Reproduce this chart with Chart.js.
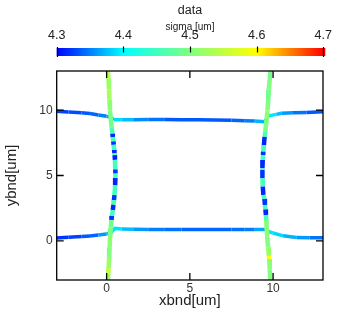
<!DOCTYPE html>
<html>
<head>
<meta charset="utf-8">
<script src="https://cdn.jsdelivr.net/npm/chart.js@4"></script>
<style>
   body { margin: 0; background: #fff; }
   #wrap { position: relative; width: 345px; height: 316px; }
   canvas { position: absolute; left: 0; top: 0; }
</style>
</head>
<body>
<div id="wrap">
   <canvas id="barChart" width="345" height="60"></canvas>
   <canvas id="mainChart" width="345" height="316"></canvas>
</div>
<script>
// colour scale
const cMin = 4.3;
const cMax = 4.7;
const barTicks = [4.3, 4.4, 4.5, 4.6, 4.7];

// axis ticks
const xTicks = [0, 5, 10];
const yTicks = [0, 5, 10];

// left boundary (top to bottom)
const leftY = [13.2, 12.4, 11.6, 10.8, 10.0, 9.3, 8.7, 8.2, 7.95, 7.6, 7.35, 6.95, 6.7, 6.55, 6.2, 5.45, 5.15, 4.8, 4.25, 3.5, 3.1, 2.75, 2.35, 1.9, 1.6, 1.0, 0.3, -0.5, -1.3, -2.1, -2.5, -3.2];
const leftX = [0.07, 0.11, 0.14, 0.17, 0.2, 0.25, 0.3, 0.35, 0.37, 0.4, 0.42, 0.45, 0.47, 0.48, 0.5, 0.52, 0.53, 0.53, 0.51, 0.47, 0.44, 0.41, 0.37, 0.32, 0.29, 0.25, 0.21, 0.18, 0.15, 0.12, 0.1, 0.06];
const leftS = [4.54, 4.52, 4.53, 4.51, 4.5, 4.49, 4.46, 4.315, 4.455, 4.32, 4.45, 4.315, 4.46, 4.31, 4.45, 4.32, 4.455, 4.315, 4.45, 4.32, 4.46, 4.315, 4.45, 4.32, 4.49, 4.5, 4.51, 4.5, 4.52, 4.55, 4.52, 4.52];

// right boundary (top to bottom)
const rightY = [13.2, 12.4, 11.6, 10.8, 10.0, 9.3, 8.35, 7.96, 7.33, 6.82, 6.56, 6.18, 5.55, 5.42, 4.79, 4.15, 3.51, 3.2, 2.75, 2.4, 1.98, 1.6, 1.0, 0.3, -0.5, -1.15, -1.4, -2.2, -3.2];
const rightX = [9.85, 9.8, 9.75, 9.71, 9.67, 9.61, 9.53, 9.49, 9.45, 9.42, 9.4, 9.38, 9.36, 9.36, 9.36, 9.38, 9.42, 9.48, 9.51, 9.54, 9.57, 9.59, 9.61, 9.65, 9.7, 9.75, 9.77, 9.8, 9.85];
const rightS = [4.49, 4.5, 4.49, 4.5, 4.51, 4.5, 4.455, 4.315, 4.455, 4.32, 4.45, 4.315, 4.45, 4.32, 4.455, 4.315, 4.45, 4.32, 4.455, 4.315, 4.455, 4.5, 4.51, 4.5, 4.52, 4.6, 4.51, 4.5, 4.5];

// top boundary (left to right)
const topX = [-3.1, -2.3, -1.5, -1.0, -0.5, 0.0, 0.25, 0.45, 0.9, 1.6, 2.5, 3.5, 4.5, 5.5, 6.5, 7.5, 8.3, 8.9, 9.5, 9.7, 10.2, 10.5, 11.2, 12.0, 13.1];
const topY = [9.93, 9.86, 9.8, 9.74, 9.63, 9.53, 9.45, 9.26, 9.26, 9.27, 9.28, 9.28, 9.27, 9.26, 9.25, 9.23, 9.2, 9.17, 9.12, 9.55, 9.68, 9.77, 9.8, 9.83, 9.88];
const topS = [4.325, 4.33, 4.335, 4.34, 4.35, 4.365, 4.38, 4.385, 4.375, 4.355, 4.345, 4.335, 4.335, 4.335, 4.335, 4.34, 4.35, 4.37, 4.385, 4.39, 4.375, 4.36, 4.345, 4.335, 4.33];

// bottom boundary (left to right)
const botX = [-3.1, -2.3, -1.5, -1.0, -0.5, 0.0, 0.25, 0.5, 0.9, 1.6, 2.5, 3.5, 4.5, 5.5, 6.5, 7.5, 8.3, 8.9, 9.6, 9.7, 10.0, 10.6, 11.4, 12.2, 13.1];
const botY = [0.22, 0.28, 0.33, 0.37, 0.45, 0.53, 0.62, 0.95, 0.9, 0.88, 0.87, 0.87, 0.87, 0.86, 0.86, 0.86, 0.86, 0.86, 0.87, 0.72, 0.6, 0.38, 0.26, 0.24, 0.23];
const botS = [4.32, 4.325, 4.335, 4.34, 4.36, 4.375, 4.39, 4.39, 4.375, 4.36, 4.35, 4.345, 4.34, 4.34, 4.34, 4.345, 4.35, 4.365, 4.385, 4.39, 4.385, 4.37, 4.36, 4.345, 4.34];

Chart.defaults.font.family = '"Liberation Sans", Arial, sans-serif';
Chart.defaults.color = '#333';

const stops = [[0, 0, 255], [0, 255, 255], [128, 255, 128], [255, 255, 0], [255, 0, 0]];

function jet(v) {
   const t = Math.max(0, Math.min(1, (v - cMin) / (cMax - cMin)));
   const p = t * 4;
   const i = Math.min(3, Math.floor(p));
   const f = p - i;
   const a = stops[i], b = stops[i + 1];
   const c = a.map((n, k) => Math.round(n + (b[k] - n) * f));
   return 'rgb(' + c.join(',') + ')';
}

function curve(xs, ys, sig, width) {
   return {
      data: xs.map((x, i) => ({ x: x, y: ys[i] })),
      showLine: true,
      pointRadius: 0,
      borderWidth: width,
      borderColor: jet(sig[0]),
      segment: {
         borderColor: c => jet(sig[c.p0DataIndex])
      }
   };
}

// colour bar
const colorbarPlugin = {
   id: 'colorbar',
   beforeDatasetsDraw(chart) {
      const { ctx, chartArea } = chart;
      const sx = chart.scales.x;
      const g = ctx.createLinearGradient(chartArea.left, 0, chartArea.right, 0);
      stops.forEach((s, i) => g.addColorStop(i / 4, 'rgb(' + s.join(',') + ')'));
      ctx.save();
      ctx.fillStyle = g;
      ctx.fillRect(chartArea.left, chartArea.top, chartArea.right - chartArea.left + 2, chartArea.bottom - chartArea.top);
      ctx.strokeStyle = '#000';
      ctx.lineWidth = 1.2;
      barTicks.forEach((v, i) => {
         const px = Math.round(sx.getPixelForValue(v)) + 0.5;
         ctx.beginPath();
         if (i === 0 || i === barTicks.length - 1) {
            ctx.moveTo(px, chartArea.top - 1);
            ctx.lineTo(px, chartArea.bottom + 1);
         } else {
            ctx.moveTo(px, chartArea.top - 1.5);
            ctx.lineTo(px, chartArea.top + 4.5);
         }
         ctx.stroke();
      });
      ctx.restore();
   }
};

new Chart(document.getElementById('barChart'), {
   type: 'scatter',
   data: { datasets: [] },
   plugins: [colorbarPlugin],
   options: {
      responsive: false,
      animation: false,
      layout: {
         padding: { left: 56.7, right: 21.7, top: 0, bottom: 4 }
      },
      plugins: {
         legend: { display: false },
         tooltip: { enabled: false },
         title: {
            display: true,
            text: 'data',
            color: '#222',
            font: { size: 12.5, weight: 'normal' },
            padding: { top: 3, bottom: 0 }
         }
      },
      scales: {
         x: {
            type: 'linear',
            position: 'top',
            min: cMin,
            max: cMax,
            afterBuildTicks: s => { s.ticks = barTicks.map(v => ({ value: v })); },
            afterFit: s => { s.height = 30; },
            grid: { display: false, drawTicks: false },
            border: { display: false },
            ticks: {
               font: { size: 12.5 },
               color: '#222',
               padding: 4.5,
               maxRotation: 0,
               callback: v => v.toFixed(1)
            },
            title: {
               display: true,
               text: 'sigma [um]',
               color: '#222',
               font: { size: 10 },
               padding: { top: 3, bottom: 0 }
            }
         },
         y: { display: false, min: 0, max: 1 }
      }
   }
});

// frame and inward ticks
const framePlugin = {
   id: 'frame',
   afterDraw(chart) {
      const { ctx, chartArea } = chart;
      const { left, right, top, bottom } = chartArea;
      const sx = chart.scales.x, sy = chart.scales.y;
      ctx.save();
      ctx.strokeStyle = '#000';
      ctx.lineWidth = 1.3;
      ctx.strokeRect(left, top, right - left, bottom - top);
      ctx.beginPath();
      xTicks.forEach(v => {
         const px = sx.getPixelForValue(v);
         ctx.moveTo(px, bottom); ctx.lineTo(px, bottom - 7);
         ctx.moveTo(px, top); ctx.lineTo(px, top + 7);
      });
      yTicks.forEach(v => {
         const py = sy.getPixelForValue(v);
         ctx.moveTo(left, py); ctx.lineTo(left + 7, py);
         ctx.moveTo(right, py); ctx.lineTo(right - 7, py);
      });
      ctx.stroke();
      ctx.restore();
   }
};

new Chart(document.getElementById('mainChart'), {
   type: 'scatter',
   data: {
      datasets: [
         curve(leftX, leftY, leftS, 4.5),
         curve(rightX, rightY, rightS, 4.5),
         curve(topX, topY, topS, 3.5),
         curve(botX, botY, botS, 3.5)
      ]
   },
   plugins: [framePlugin],
   options: {
      responsive: false,
      animation: false,
      layout: {
         padding: { left: 0, right: 22, top: 71, bottom: 0 }
      },
      plugins: {
         legend: { display: false },
         tooltip: { enabled: false }
      },
      scales: {
         x: {
            type: 'linear',
            min: -3,
            max: 13,
            afterBuildTicks: s => { s.ticks = xTicks.map(v => ({ value: v })); },
            afterFit: s => { s.height = 36; },
            grid: { display: false, drawTicks: false },
            border: { display: false },
            ticks: { font: { size: 12 }, padding: 1.5, maxRotation: 0 },
            title: {
               display: true,
               text: 'xbnd[um]',
               color: '#222',
               font: { size: 15 },
               padding: { top: 0, bottom: 6 }
            }
         },
         y: {
            type: 'linear',
            min: -3,
            max: 13,
            afterBuildTicks: s => { s.ticks = yTicks.map(v => ({ value: v })); },
            afterFit: s => { s.width = 56.7; },
            grid: { display: false, drawTicks: false },
            border: { display: false },
            ticks: { font: { size: 12 }, padding: 4 },
            title: {
               display: true,
               text: 'ybnd[um]',
               color: '#222',
               font: { size: 15 },
               padding: { top: 3, bottom: 0 }
            }
         }
      }
   }
});
</script>
</body>
</html>
